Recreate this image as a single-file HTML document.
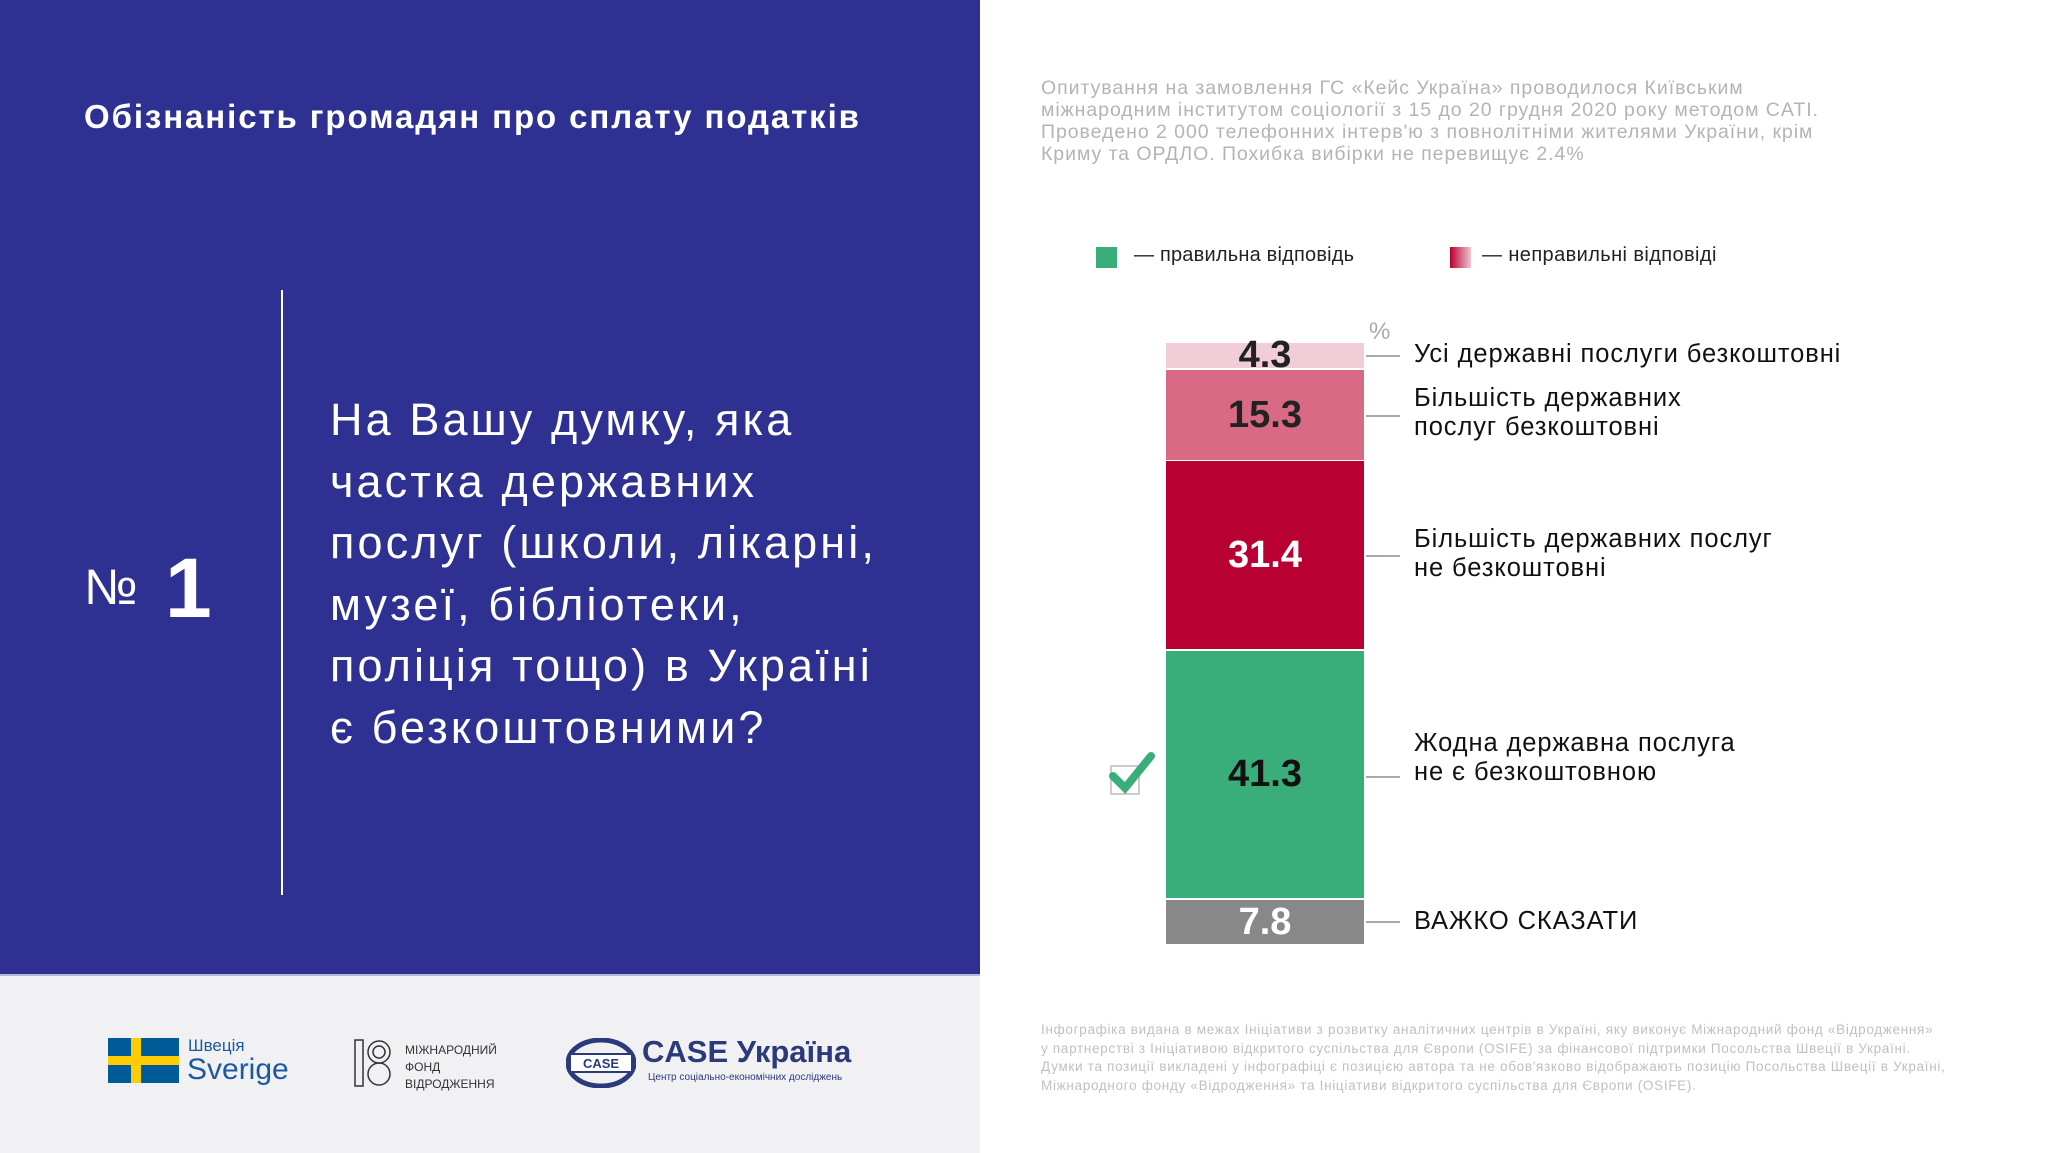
<!DOCTYPE html>
<html><head><meta charset="utf-8"><style>
*{margin:0;padding:0;box-sizing:border-box}
body{width:2048px;height:1153px;position:relative;background:#fff;overflow:hidden;font-family:"Liberation Sans Narrow","Liberation Sans",sans-serif}
.a{position:absolute;white-space:nowrap}
#blue{left:0;top:0;width:980px;height:974px;background:#2e3192}
#gray{left:0;top:974px;width:980px;height:179px;background:#f1f1f4;border-top:2px solid #b8b8dc}
.q{color:#fff;font-size:45px;left:330px;line-height:61.5px;top:389px;letter-spacing:3.1px}
.note{color:#b4b4b4;font-size:19.5px;line-height:22px;left:1041px;top:77px;letter-spacing:0.95px}
.lbl{font-size:25.5px;color:#111;line-height:29px;left:1414px;letter-spacing:0.9px}
.seg{left:1166px;width:198px;position:absolute;text-align:center;font-family:"Liberation Sans",sans-serif;font-weight:bold;font-size:38px}
.ld{position:absolute;left:1366px;width:34px;height:1.5px;background:#aaa}
.foot{color:#c0c0c0;font-size:13.5px;line-height:18.5px;left:1041px;top:1021px;letter-spacing:0.7px}
</style></head><body>
<div id="blue" class="a"></div>
<div id="gray" class="a"></div>
<div class="a" style="left:84px;top:98px;color:#fff;font-size:33px;font-weight:bold;letter-spacing:1.9px">Обізнаність громадян про сплату податків</div>
<div class="a" style="left:281px;top:290px;width:2px;height:605px;background:#fff"></div>
<div class="a" style="left:84px;top:558px;color:#fff;font-size:50px;font-family:'Liberation Sans',sans-serif">№</div>
<div class="a" style="left:165px;top:540px;color:#fff;font-size:84px;font-weight:bold;font-family:'Liberation Sans',sans-serif">1</div>
<div class="a q">На Вашу думку, яка<br>частка державних<br>послуг (школи, лікарні,<br>музеї, бібліотеки,<br>поліція тощо) в Україні<br>є безкоштовними?</div>
<div class="a note">Опитування на замовлення ГС «Кейс Україна» проводилося Київським<br>міжнародним інститутом соціології з 15 до 20 грудня 2020 року методом CATI.<br>Проведено 2 000 телефонних інтерв'ю з повнолітніми жителями України, крім<br>Криму та ОРДЛО. Похибка вибірки не перевищує 2.4%</div>
<div class="a" style="left:1096px;top:247px;width:21px;height:21px;background:#3aae7a"></div>
<div class="a" style="left:1134px;top:244px;font-size:20px;color:#222;letter-spacing:0.2px">— правильна відповідь</div>
<div class="a" style="left:1450px;top:247px;width:21px;height:21px;background:linear-gradient(90deg,#b8002f,#f0c6d2)"></div>
<div class="a" style="left:1482px;top:244px;font-size:20px;color:#222;letter-spacing:0.4px">— неправильні відповіді</div>
<div class="a" style="left:1369px;top:318px;font-size:24px;color:#aaa">%</div>
<div class="seg" style="top:343px;height:25px;background:#f1cdd8;color:#222;line-height:25px">4.3</div>
<div class="seg" style="top:370px;height:90px;background:#d96a86;color:#222;line-height:90px">15.3</div>
<div class="seg" style="top:461px;height:188px;background:#b80033;color:#fff;line-height:188px">31.4</div>
<div class="seg" style="top:651px;height:247px;background:#3aae7a;color:#111;line-height:247px">41.3</div>
<div class="seg" style="top:900px;height:44px;background:#888;color:#fff;line-height:44px">7.8</div>
<div class="ld" style="top:355px"></div>
<div class="ld" style="top:415px"></div>
<div class="ld" style="top:555px"></div>
<div class="ld" style="top:776px"></div>
<div class="ld" style="top:921px"></div>
<div class="a lbl" style="top:340px">Усі державні послуги безкоштовні</div>
<div class="a lbl" style="top:384px">Більшість державних<br>послуг безкоштовні</div>
<div class="a lbl" style="top:525px">Більшість державних послуг<br>не безкоштовні</div>
<div class="a lbl" style="top:729px">Жодна державна послуга<br>не є безкоштовною</div>
<div class="a lbl" style="top:907px">ВАЖКО СКАЗАТИ</div>
<svg class="a" style="left:1105px;top:748px" width="55" height="50"><rect x="6" y="18" width="28" height="28" fill="none" stroke="#bbb" stroke-width="1.5"/><path d="M8 28 L20 40 L46 8" fill="none" stroke="#3aae7a" stroke-width="8" stroke-linecap="round"/></svg>
<div class="a" style="left:108px;top:1038px;width:71px;height:45px;background:#005b99"></div>
<div class="a" style="left:108px;top:1056px;width:71px;height:9px;background:#fecc02"></div>
<div class="a" style="left:131px;top:1038px;width:10px;height:45px;background:#fecc02"></div>
<div class="a" style="left:188px;top:1036px;font-size:17px;color:#1c5aa0">Швеція</div>
<div class="a" style="left:187px;top:1053px;font-size:30px;color:#1c5aa0">Sverige</div>
<svg class="a" style="left:353px;top:1038px" width="40" height="50"><rect x="2" y="2" width="8" height="46" fill="none" stroke="#333" stroke-width="1.5"/><circle cx="26" cy="14" r="11" fill="none" stroke="#333" stroke-width="1.5"/><circle cx="26" cy="14" r="6" fill="none" stroke="#333" stroke-width="1.5"/><circle cx="26" cy="36" r="11" fill="none" stroke="#333" stroke-width="1.5"/></svg>
<div class="a" style="left:405px;top:1042px;font-size:12px;line-height:17px;color:#333">МІЖНАРОДНИЙ<br>ФОНД<br>ВІДРОДЖЕННЯ</div>
<svg class="a" style="left:566px;top:1038px" width="70" height="50"><ellipse cx="35" cy="25" rx="33" ry="23" fill="none" stroke="#2b3a7a" stroke-width="5"/><rect x="4" y="16" width="62" height="18" fill="#fff" stroke="#2b3a7a" stroke-width="2"/><text x="35" y="30" font-size="13" font-weight="bold" fill="#2b3a7a" text-anchor="middle" font-family="Liberation Sans">CASE</text></svg>
<div class="a" style="left:642px;top:1034px;font-size:31px;font-weight:bold;color:#2b3a7a">CASE Україна</div>
<div class="a" style="left:648px;top:1072px;font-size:10px;color:#2b3a7a">Центр соціально-економічних досліджень</div>
<div class="a foot">Інфографіка видана в межах Ініціативи з розвитку аналітичних центрів в Україні, яку виконує Міжнародний фонд «Відродження»<br>у партнерстві з Ініціативою відкритого суспільства для Європи (OSIFE) за фінансової підтримки Посольства Швеції в Україні.<br>Думки та позиції викладені у інфографіці є позицією автора та не обов'язково відображають позицію Посольства Швеції в Україні,<br>Міжнародного фонду «Відродження» та Ініціативи відкритого суспільства для Європи (OSIFE).</div>
</body></html>
